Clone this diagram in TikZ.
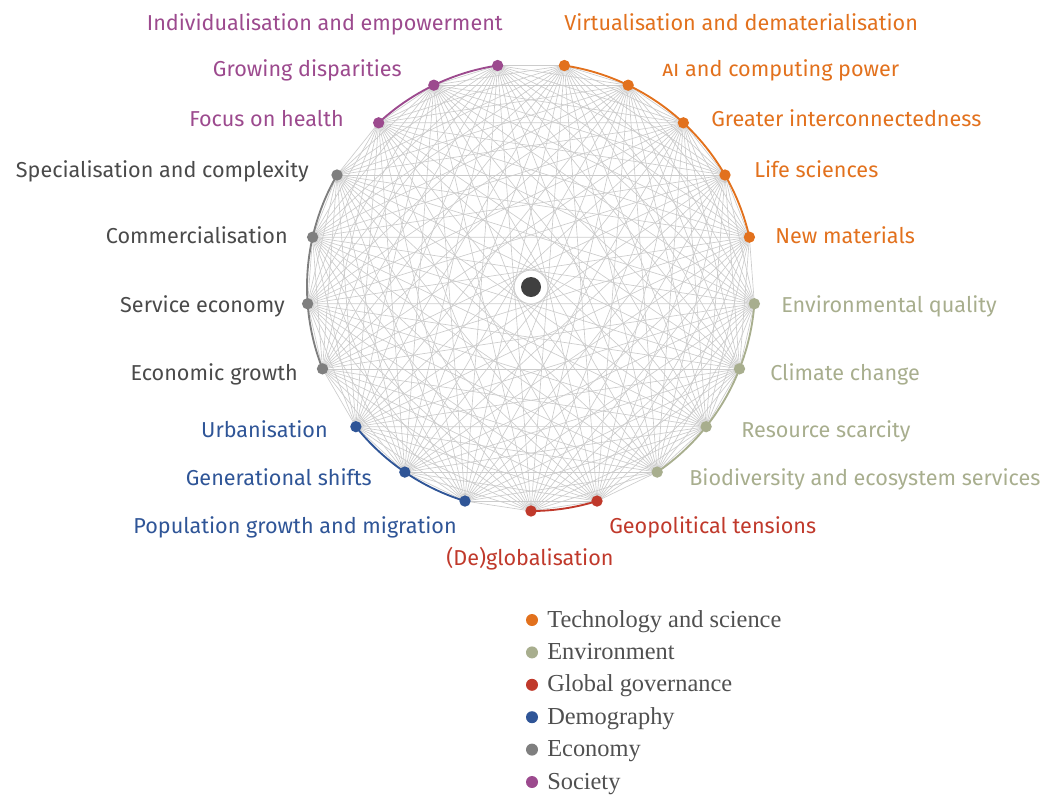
\documentclass[tikz,border=0pt]{standalone}
\usepackage{fontspec}
\setmainfont{Liberation Serif}
\setsansfont{Fira Sans}
\usepackage{xcolor}
\usepackage{tikz}
\usetikzlibrary{calc}

\definecolor{techcol}{HTML}{E2711D}
\definecolor{envcol}{HTML}{A8AE8E}
\definecolor{govcol}{HTML}{C0392B}
\definecolor{democol}{HTML}{2F5597}
\definecolor{econcol}{HTML}{7F7F7F}
\definecolor{soccol}{HTML}{9C4A8E}
\definecolor{econtext}{HTML}{4A4A4A}
\definecolor{legtext}{HTML}{505050}

\begin{document}
\begin{tikzpicture}[x=0.75pt, y=-0.75pt,
        chord/.style={draw=black!20, line width=0.5pt},
        grouparc/.style={line width=1.4pt},
        dot/.style={circle, inner sep=0pt, minimum size=8.5pt},
        lab/.style={font=\sffamily\fontsize{16.2}{18}\selectfont, inner sep=0pt},
        legdot/.style={circle, inner sep=0pt, minimum size=9pt},
        leg/.style={font=\fontsize{18.3}{20}\selectfont, text=legtext, inner sep=0pt, anchor=base west}]
    \useasboundingbox (0,0) rectangle (1045,794);
    \coordinate (c) at (531,287);
    % 21 points round the circle, k=0 at the bottom
    \foreach \k in {0,...,20}
        \coordinate (p\k) at ($(c)+({90-\k*360/21}:224)$);
    \foreach \i in {0,...,19}{
        \pgfmathtruncatemacro\jstart{\i+1}
        \foreach \j in {\jstart,...,20}
            \draw[chord] (p\i) -- (p\j);
    }
    % arcs of the six groups
    \foreach \a/\b/\col in {0/1/govcol, 2/5/envcol, 6/10/techcol, 11/13/soccol, 14/17/econcol, 18/20/democol}
        \draw[grouparc, draw=\col] (p\a) arc[start angle={90-\a*360/21}, end angle={90-\b*360/21}, radius=224];
    \foreach \k/\col in {0/govcol, 1/govcol, 2/envcol, 3/envcol, 4/envcol, 5/envcol,
                         6/techcol, 7/techcol, 8/techcol, 9/techcol, 10/techcol,
                         11/soccol, 12/soccol, 13/soccol, 14/econcol, 15/econcol,
                         16/econcol, 17/econcol, 18/democol, 19/democol, 20/democol}
        \node[dot, fill=\col] (n\k) at (p\k) {};
    \node[circle, fill=white, minimum size=20pt, inner sep=0pt] (hubring) at (c) {};
    \node[circle, fill=black!75, minimum size=15pt, inner sep=0pt] (hub) at (c) {};

    % labels (placed by their baselines)
    \node[lab, text=govcol, anchor=base] (l0) at (530,565) {(De)globalisation};
    \node[lab, text=govcol, anchor=base west] (l1) at (609,533) {Geopolitical tensions};
    \node[lab, text=envcol, anchor=base west] (l2) at (689,485) {Biodiversity and ecosystem services};
    \node[lab, text=envcol, anchor=base west] (l3) at (741,437) {Resource scarcity};
    \node[lab, text=envcol, anchor=base west] (l4) at (770,380) {Climate change};
    \node[lab, text=envcol, anchor=base west] (l5) at (781,312) {Environmental quality};
    \node[lab, text=techcol, anchor=base west] (l6) at (775,243) {New materials};
    \node[lab, text=techcol, anchor=base west] (l7) at (754,177) {Life sciences};
    \node[lab, text=techcol, anchor=base west] (l8) at (711,126) {Greater interconnectedness};
    \node[lab, text=techcol, anchor=base west] (l9) at (662,76) {\textsc{ai} and computing power};
    \node[lab, text=techcol, anchor=base west] (l10) at (564,30) {Virtualisation and dematerialisation};
    \node[lab, text=soccol, anchor=base east] (l11) at (503,30) {Individualisation and empowerment};
    \node[lab, text=soccol, anchor=base east] (l12) at (402,76) {Growing disparities};
    \node[lab, text=soccol, anchor=base east] (l13) at (344,126) {Focus on health};
    \node[lab, text=econtext, anchor=base east] (l14) at (309,177) {Specialisation and complexity};
    \node[lab, text=econtext, anchor=base east] (l15) at (288,243) {Commercialisation};
    \node[lab, text=econtext, anchor=base east] (l16) at (285,312) {Service economy};
    \node[lab, text=econtext, anchor=base east] (l17) at (298,380) {Economic growth};
    \node[lab, text=democol, anchor=base east] (l18) at (328,437) {Urbanisation};
    \node[lab, text=democol, anchor=base east] (l19) at (372,485) {Generational shifts};
    \node[lab, text=democol, anchor=base east] (l20) at (457,533) {Population growth and migration};

    % legend
    \foreach \t/\col [count=\n from 0] in {Technology and science/techcol, Environment/envcol,
            Global governance/govcol, Demography/democol, Economy/econcol, Society/soccol}{
        \node[legdot, fill=\col] (d\n) at (532,{620+32.4*\n}) {};
        \node[leg] (t\n) at (547,{627+32.4*\n}) {\t};
    }
\end{tikzpicture}
\end{document}
